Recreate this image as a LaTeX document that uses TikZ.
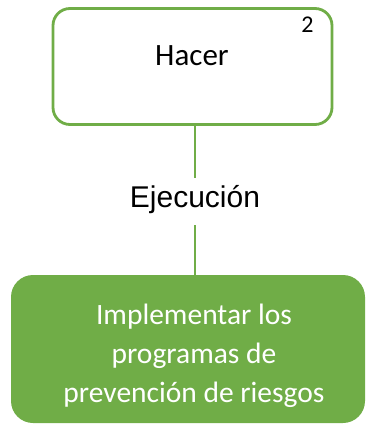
\documentclass[tikz,border=0pt]{standalone}
\usepackage{fontspec}
\setmainfont{Carlito}
\newfontfamily\arialfont{Liberation Sans}
\definecolor{okgreen}{HTML}{70AD47}
\begin{document}
\begin{tikzpicture}[x=1pt, y=-1pt,
  stagebox/.style={rectangle, rounded corners=17pt, draw=okgreen, line width=2.8pt, fill=white, minimum width=279pt, minimum height=116pt, inner sep=0pt},
  taskbox/.style={rectangle, rounded corners=22pt, fill=okgreen, minimum width=354pt, minimum height=148pt, inner sep=0pt},
  link/.style={draw=okgreen, line width=2.8pt}]
\useasboundingbox (0,0) rectangle (366,432);
\node[stagebox] (hacer) at (192.5,66.5){};
\node[font=\fontsize{31}{37}\selectfont, inner sep=0pt] (hacertxt) at (192,56){Hacer};
\node[font=\fontsize{24}{28}\selectfont, inner sep=0pt] (num) at (307.5,25){2};
\node[font=\arialfont\fontsize{30}{36}\selectfont, anchor=base, inner sep=0pt, text height=29pt, text depth=18pt] (ejec) at (195,207){Ejecución};
\node[taskbox] (impl) at (188,349){};
\node[font=\fontsize{29.5}{39}\selectfont, text=white, align=center, inner sep=0pt] (impltxt) at (194,356){Implementar los\\programas de\\prevención de riesgos};
\draw[link] (ejec.north |- hacer.south) -- (ejec.north);
\draw[link] (ejec.south) -- (ejec.south |- impl.north);
\end{tikzpicture}
\end{document}
